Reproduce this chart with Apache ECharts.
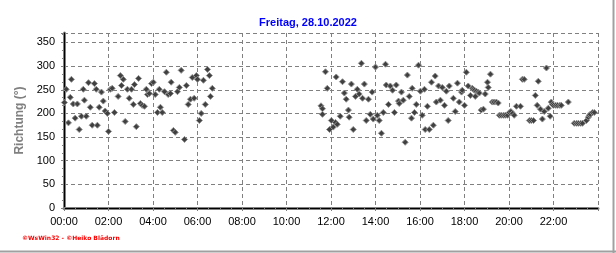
<!DOCTYPE html>
<html>
<head>
<meta charset="utf-8">
<script src="https://cdn.jsdelivr.net/npm/echarts@6/dist/echarts.min.js"></script>
<style>
html,body{margin:0;padding:0;background:#fff;}
#c{width:616px;height:253px;}
</style>
</head>
<body>
<div id="c"></div>
<script>
// Minutes since midnight
var minutes = [
  1,6,12,17,20,25,30,36,41,47,52,55,60,66,71,76,82,87,90,95,101,106,111,117,120,125,130,136,146,152,155,160,165,171,176,182,187,190,
  195,201,206,211,217,222,225,230,236,241,246,252,257,260,265,271,276,281,287,289,295,300,306,311,316,325,330,335,341,346,351,357,360,365,370,376,381,387,392,395,400,
  693,697,697,705,710,716,721,726,732,734,737,745,751,756,761,767,769,775,780,786,791,796,802,805,810,
  815,821,826,831,834,840,845,850,856,861,867,869,875,880,886,891,896,902,904,910,915,920,926,931,937,939,945,950,956,961,966,972,974,980,985,991,996,1001,1004,1010,
  1015,1020,1026,1031,1036,1039,1050,1055,1061,1066,1072,1074,1080,1085,1090,1096,1101,1104,1107,1109,1112,1117,1120,1125,1131,1136,1142,1144,1150,1155,1160,1166,1171,1174,1179,1185,1190,1196,1201,1205,1210,1214,
  1220,1231,1236,1241,1255,1260,1266,1271,1276,1279,1285,1290,1295,1301,1306,1311,1314,1317,1320,1326,1331,1337,1341,1360,1376,1382,1387,1393,1398,1409,1414,1417,1419,1425,1430
];
// Wind direction (degrees)
var richtung = [
  223,251,180,234,272,220,190,220,166,194,251,228,194,265,213,175,263,251,175,213,245,226,205,200,162,251,253,202,236,280,259,272,183,251,232,251,219,261,
  172,274,221,217,215,251,240,242,263,266,240,202,251,213,202,246,287,240,242,266,164,160,246,255,291,145,259,219,230,276,232,280,272,185,200,270,219,293,280,236,253,
  216,210,198,288,253,166,185,171,181,277,177,194,267,243,230,207,192,262,166,236,251,241,306,232,262,
  185,230,198,245,188,298,196,185,158,202,304,260,219,258,249,202,260,226,221,245,228,139,281,236,190,253,202,219,302,247,196,251,166,215,166,266,175,279,224,258,
  228,255,217,247,185,258,232,204,264,224,245,249,217,287,258,238,253,251,249,236,247,245,243,207,209,241,266,255,283,224,224,224,222,196,196,196,196,196,202,204,200,196,
  215,215,272,272,185,185,185,238,217,268,209,188,204,296,211,194,224,219,217,217,217,217,217,224,179,179,179,179,179,185,192,196,198,202,202
];
var yTicks = [0,50,100,150,200,250,300,350];
var titleText = 'Freitag, 28.10.2022';
var yName = 'Richtung (°)';
var footerText = '©WsWin32 - ©Heiko Blädorn';

var points = minutes.map(function(m, i){ return [m, richtung[i]]; });

function hhmm(v){
  var h = Math.floor(v/60), m = Math.round(v%60);
  return (h<10?'0':'')+h+':'+(m<10?'0':'')+m;
}

var chart = echarts.init(document.getElementById('c'), null, {renderer:'canvas'});
chart.setOption({
  animation:false,
  backgroundColor:'#ffffff',
  title:{
    text:titleText, left:'center', top:12,
    textStyle:{color:'#0000ff', fontSize:11, fontWeight:'bold', fontFamily:'Liberation Sans, Arial, sans-serif'}
  },
  grid:{left:64, right:18, top:33, bottom:45, containLabel:false},
  xAxis:[{
    type:'value', min:0, max:1440, interval:120,
    axisLine:{show:true, onZero:false, lineStyle:{color:'#808080', width:3}},
    axisTick:{show:true, length:3, lineStyle:{color:'#808080', width:1}},
    minorTick:{show:true, splitNumber:4, length:2, lineStyle:{color:'#808080'}},
    axisLabel:{formatter:hhmm, showMaxLabel:false, margin:8, color:'#000', fontSize:11, fontFamily:'Liberation Sans, Arial, sans-serif'},
    splitLine:{show:true, lineStyle:{color:'#808080', type:[4,3], width:1}}
  },{
    type:'value', position:'top', min:0, max:1440,
    axisLine:{show:true, lineStyle:{color:'#000', width:1}},
    axisTick:{show:false}, axisLabel:{show:false}, splitLine:{show:false}
  }],
  yAxis:[{
    type:'value', min:0, max:370, interval:50, offset:3,
    name:yName, nameLocation:'middle', nameGap:31, nameRotate:90,
    nameTextStyle:{color:'#808080', fontSize:12, fontWeight:'bold', fontFamily:'Liberation Sans, Arial, sans-serif'},
    axisLine:{show:true, lineStyle:{color:'#808080', width:3}},
    axisTick:{show:true, length:3, lineStyle:{color:'#808080'}},
    minorTick:{show:true, splitNumber:3, length:2, lineStyle:{color:'#808080'}},
    axisLabel:{showMaxLabel:false, margin:6, color:'#000', fontSize:11, fontFamily:'Liberation Sans, Arial, sans-serif',
      formatter:function(v){ return yTicks.indexOf(v)>=0 ? String(v) : ''; }},
    splitLine:{show:true, lineStyle:{color:'#808080', type:[4,3], width:1}}
  },{
    type:'value', position:'right', min:0, max:370,
    axisLine:{show:true, lineStyle:{color:'#000', width:1}},
    axisTick:{show:false}, axisLabel:{show:false}, splitLine:{show:false}
  }],
  series:[{
    type:'scatter', data:points, symbol:'diamond', symbolSize:6,
    itemStyle:{color:'#404040', borderColor:'#909090', borderWidth:1, opacity:1},
    emphasis:{disabled:true}
  }],
  graphic:[
    {type:'text', left:22, top:235, style:{text:footerText, fill:'#ff0000', fontSize:6, fontWeight:'bold', fontFamily:'DejaVu Sans, sans-serif'}},
    {type:'line', shape:{x1:0, y1:251.5, x2:616, y2:251.5}, style:{stroke:'#a0a0a0', lineWidth:2}},
    {type:'line', shape:{x1:613.5, y1:0, x2:613.5, y2:253}, style:{stroke:'#a0a0a0', lineWidth:2}}
  ]
});
</script>
</body>
</html>
